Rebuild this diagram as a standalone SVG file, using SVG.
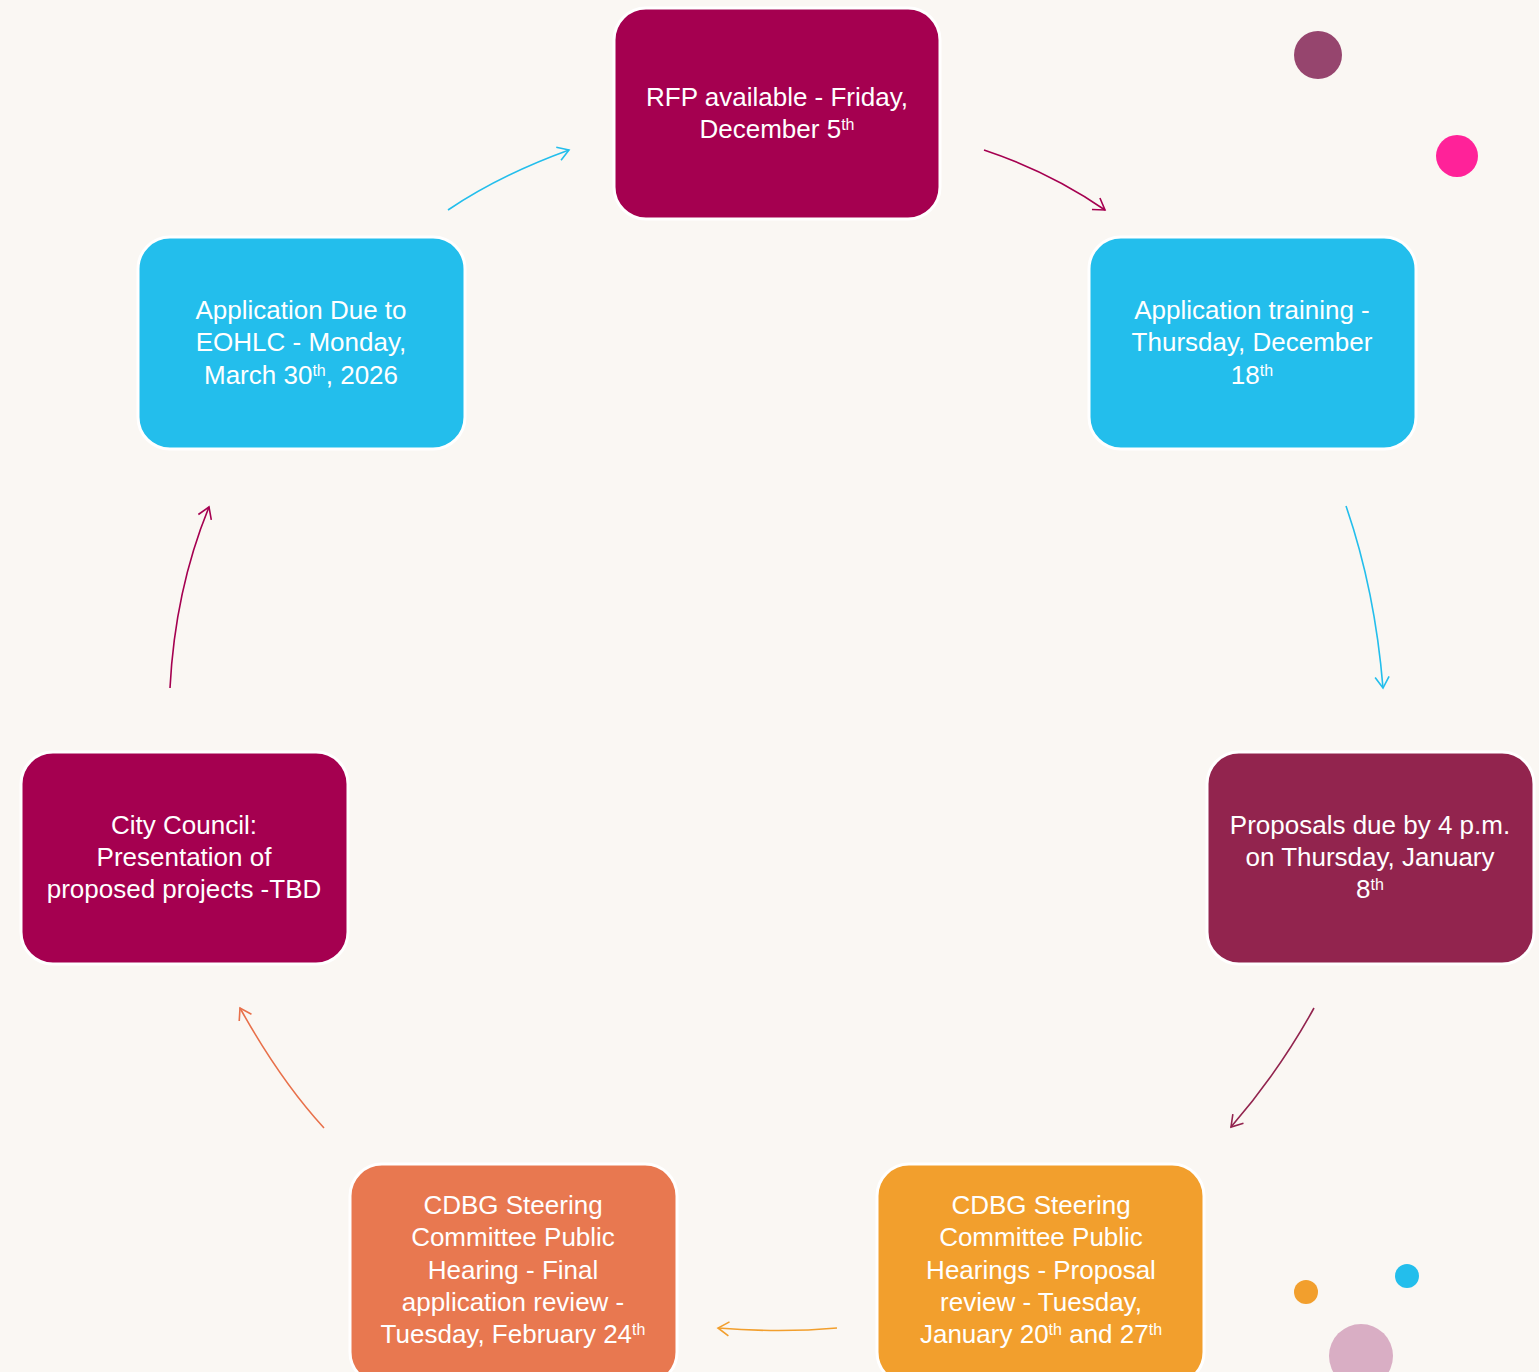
<svg xmlns="http://www.w3.org/2000/svg" width="1539" height="1372" viewBox="0 0 1539 1372">
<defs>
<style>
.box{stroke:#ffffff;stroke-width:3}
.t{font-family:"Liberation Sans",Arial,sans-serif;font-size:26px;fill:#ffffff;text-anchor:middle}
.sup{font-size:16px}
.c{fill:none;stroke-width:1.6}
</style>
<marker id="aBlue" markerUnits="userSpaceOnUse" markerWidth="30" markerHeight="30" refX="15" refY="15" orient="auto" overflow="visible"><path d="M4,8 L15,15 L4,22" fill="none" stroke="#23BEEC" stroke-width="1.6"/></marker>
<marker id="aMag" markerUnits="userSpaceOnUse" markerWidth="30" markerHeight="30" refX="15" refY="15" orient="auto" overflow="visible"><path d="M4,8 L15,15 L4,22" fill="none" stroke="#A50050" stroke-width="1.6"/></marker>
<marker id="aMar" markerUnits="userSpaceOnUse" markerWidth="30" markerHeight="30" refX="15" refY="15" orient="auto" overflow="visible"><path d="M4,8 L15,15 L4,22" fill="none" stroke="#92244E" stroke-width="1.6"/></marker>
<marker id="aOr" markerUnits="userSpaceOnUse" markerWidth="30" markerHeight="30" refX="15" refY="15" orient="auto" overflow="visible"><path d="M4,8 L15,15 L4,22" fill="none" stroke="#F29F2D" stroke-width="1.6"/></marker>
<marker id="aRed" markerUnits="userSpaceOnUse" markerWidth="30" markerHeight="30" refX="15" refY="15" orient="auto" overflow="visible"><path d="M4,8 L15,15 L4,22" fill="none" stroke="#E8704A" stroke-width="1.6"/></marker>
</defs>
<rect x="0" y="0" width="1539" height="1372" fill="#FAF7F3"/>

<g id="connectors">
<path class="c" stroke="#23BEEC" d="M448,210 Q500,175 569,150" marker-end="url(#aBlue)"/>
<path class="c" stroke="#A50050" d="M984,150 Q1050,172 1105,210" marker-end="url(#aMag)"/>
<path class="c" stroke="#23BEEC" d="M1346,506 Q1375,590 1383,688" marker-end="url(#aBlue)"/>
<path class="c" stroke="#92244E" d="M1314,1008 Q1280,1070 1231,1127" marker-end="url(#aMar)"/>
<path class="c" stroke="#F29F2D" d="M837,1328 Q780,1333 718,1328" marker-end="url(#aOr)"/>
<path class="c" stroke="#E8704A" d="M324,1128 Q280,1080 240,1008" marker-end="url(#aRed)"/>
<path class="c" stroke="#A50050" d="M170,688 Q175,590 209,507" marker-end="url(#aMag)"/>
</g>

<g id="node-rfp">
<rect class="box" x="614" y="8" width="326" height="211" rx="32" fill="#A50050"/>
<text class="t" x="777" y="106">RFP available - Friday,</text>
<text class="t" x="777" y="138">December 5<tspan class="sup" baseline-shift="super">th</tspan></text>
</g>

<g id="node-training">
<rect class="box" x="1089" y="237" width="327" height="212" rx="32" fill="#23BEEC"/>
<text class="t" x="1252" y="319">Application training -</text>
<text class="t" x="1252" y="351">Thursday, December</text>
<text class="t" x="1252" y="384">18<tspan class="sup" baseline-shift="super">th</tspan></text>
</g>

<g id="node-proposals">
<rect class="box" x="1207" y="752" width="327" height="212" rx="32" fill="#92244E"/>
<text class="t" x="1370" y="834">Proposals due by 4 p.m.</text>
<text class="t" x="1370" y="866">on Thursday, January</text>
<text class="t" x="1370" y="898">8<tspan class="sup" baseline-shift="super">th</tspan></text>
</g>

<g id="node-hearings">
<rect class="box" x="877" y="1164" width="327" height="220" rx="32" fill="#F29F2D"/>
<text class="t" x="1041" y="1214">CDBG Steering</text>
<text class="t" x="1041" y="1246">Committee Public</text>
<text class="t" x="1041" y="1279">Hearings - Proposal</text>
<text class="t" x="1041" y="1311">review - Tuesday,</text>
<text class="t" x="1041" y="1343">January 20<tspan class="sup" baseline-shift="super">th</tspan> and 27<tspan class="sup" baseline-shift="super">th</tspan></text>
</g>

<g id="node-final">
<rect class="box" x="350" y="1164" width="327" height="220" rx="32" fill="#E87850"/>
<text class="t" x="513" y="1214">CDBG Steering</text>
<text class="t" x="513" y="1246">Committee Public</text>
<text class="t" x="513" y="1279">Hearing - Final</text>
<text class="t" x="513" y="1311">application review -</text>
<text class="t" x="513" y="1343">Tuesday, February 24<tspan class="sup" baseline-shift="super">th</tspan></text>
</g>

<g id="node-council">
<rect class="box" x="21" y="752" width="327" height="212" rx="32" fill="#A50050"/>
<text class="t" x="184" y="834">City Council:</text>
<text class="t" x="184" y="866">Presentation of</text>
<text class="t" x="184" y="898">proposed projects -TBD</text>
</g>

<g id="node-eohlc">
<rect class="box" x="138" y="237" width="327" height="212" rx="32" fill="#23BEEC"/>
<text class="t" x="301" y="319">Application Due to</text>
<text class="t" x="301" y="351">EOHLC - Monday,</text>
<text class="t" x="301" y="384">March 30<tspan class="sup" baseline-shift="super">th</tspan>, 2026</text>
</g>

<g id="decor">
<circle cx="1318" cy="55" r="24" fill="#96456E"/>
<circle cx="1457" cy="156" r="21" fill="#FF2299"/>
<circle cx="1306" cy="1292" r="12" fill="#F29F2D"/>
<circle cx="1407" cy="1276" r="12" fill="#23BEEC"/>
<circle cx="1361" cy="1356" r="32" fill="#D9AEC4"/>
</g>
</svg>
